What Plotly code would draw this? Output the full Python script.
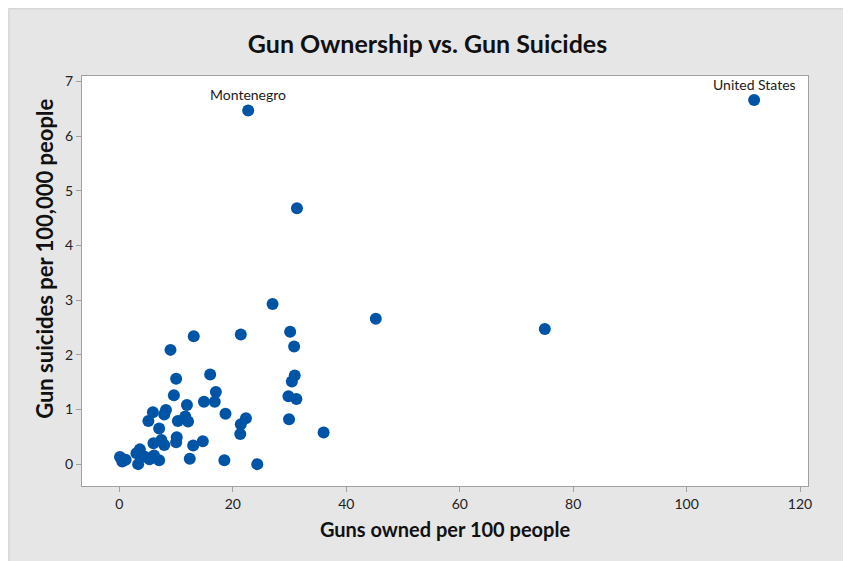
import plotly.graph_objects as go

guns = [22.7, 111.9, 31.3, 27.0, 45.2, 75.0, 30.1, 21.4, 13.1, 30.8, 9.0,
        16.0, 30.9, 10.0, 30.4, 17.0, 9.6, 29.8, 31.2, 14.9, 16.8, 11.9,
        8.2, 7.9, 5.9, 5.1, 18.7, 22.3, 21.4, 11.6, 10.3, 12.1, 29.9, 7.0,
        21.3, 36.0, 6.0, 7.4, 7.9, 10.1, 10.0, 13.0, 14.7, 3.6, 12.4, 18.5,
        24.3, 3.3, 4.4, 5.3, 6.1, 7.0, 0.1, 0.5, 1.1, 3.0]
suicides = [6.47, 6.66, 4.68, 2.93, 2.66, 2.47, 2.42, 2.37, 2.34, 2.15, 2.09,
            1.64, 1.62, 1.56, 1.51, 1.32, 1.26, 1.24, 1.19, 1.14, 1.14, 1.08,
            0.99, 0.91, 0.95, 0.79, 0.92, 0.84, 0.73, 0.87, 0.79, 0.78, 0.82, 0.65,
            0.55, 0.58, 0.38, 0.44, 0.35, 0.49, 0.40, 0.34, 0.42, 0.27, 0.10, 0.07,
            0.00, 0.00, 0.14, 0.09, 0.16, 0.07, 0.13, 0.05, 0.08, 0.20]

label_names = ["Montenegro", "United States"]
label_x = [22.7, 111.9]
label_y = [6.47, 6.66]

FONT = "Lato"
fig = go.Figure()
fig.add_trace(go.Scatter(
    x=guns, y=suicides, mode="markers",
    marker=dict(size=12, color="#0054A6", line=dict(width=0)),
    hoverinfo="x+y", showlegend=False))

for name, gx, gy in zip(label_names, label_x, label_y):
    fig.add_annotation(x=gx, y=gy, text=name, showarrow=False, yshift=16,
                       font=dict(family=FONT, size=14, color="#1a1a1a"))

# y-axis title (placed as in the reference, slightly above centre)
fig.add_annotation(x=-0.051, y=0.554, xref="paper", yref="paper",
                   text="Gun suicides per 100,000 people", textangle=-90,
                   showarrow=False, xanchor="center", yanchor="middle",
                   font=dict(family=FONT, size=22, weight="bold", color="#111111"))

# thin border around the gray panel
fig.add_shape(type="rect", xref="paper", yref="paper",
              x0=-0.1005, x1=1.052, y0=-0.2, y1=1.164,
              fillcolor="rgba(0,0,0,0)", line=dict(color="#D0D0D0", width=1),
              layer="below")

fig.update_layout(
    width=839, height=553,
    margin=dict(l=74, r=39, t=68, b=75),
    paper_bgcolor="#E6E6E6", plot_bgcolor="white",
    title=dict(text="Gun Ownership vs. Gun Suicides", x=0.5, xref="container",
               y=0.935, yref="container", xanchor="center", yanchor="middle",
               font=dict(family=FONT, size=25, color="#111111", weight="bold")),
    font=dict(family=FONT, color="#222222"),
    xaxis=dict(range=[-6.6, 121.4], tickvals=[0, 20, 40, 60, 80, 100, 120],
               showgrid=False, zeroline=False, showline=True, mirror=True,
               linecolor="#A0A0A0", linewidth=1, ticks="outside", ticklen=5,
               tickcolor="#A0A0A0", tickfont=dict(size=14, color="#222222"),
               title=dict(text="Guns owned per 100 people", standoff=12,
                          font=dict(size=20, weight="bold", color="#111111"))),
    yaxis=dict(range=[-0.4, 7.1], tickvals=[0, 1, 2, 3, 4, 5, 6, 7],
               showgrid=False, zeroline=False, showline=True, mirror=True,
               linecolor="#A0A0A0", linewidth=1, ticks="outside", ticklen=5,
               tickcolor="#A0A0A0", tickfont=dict(size=14, color="#222222")),
)

fig.write_html("out.html")
